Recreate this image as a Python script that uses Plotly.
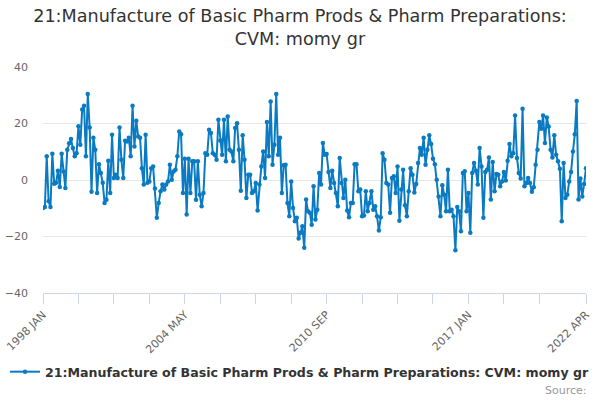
import plotly.graph_objects as go

# monthly series, 1998 JAN .. 2022 APR (292 months)
values = [
    -9.9, -9.6, 8.4, -7.5, -9.6, 9.3, -1.3, -1.0, 3.3, -2.5,
    9.3, 3.0, -2.8, 10.7, 13.0, 14.5, 11.3, 8.4, 9.5, 19.0,
    12.5, 25.0, 26.3, 8.4, 30.4, 18.6, -4.2, 15.0, 10.7, -4.6,
    5.6, 2.5, -1.0, -8.1, -7.0, 6.8, -4.6, 16.0, 0.7, 1.9,
    0.7, 18.6, 7.2, 0.7, 13.9, 13.6, 15.0, 8.4,
    26.3, 11.9, 21.0, 15.4, 15.0, 4.2, -1.6, 16.0, -1.0, -0.5,
    4.2, 4.8, -3.0, -13.4, -8.1, -4.0, -1.6, -3.4, -1.6, -0.5,
    5.4, 0.1, 3.0, 3.6, 8.4, 17.2, 16.2, -4.6, 7.5, -12.2,
    7.5, -4.6, 6.6, 6.6, -7.0, 6.6, -5.2, -9.3, -4.6, 9.5,
    8.9, 17.8, 16.6, 9.5, 8.9, 7.2, 21.3, 14.0,
    8.9, 21.3, 6.6, 22.5, 10.7, 10.1, 6.6, 18.4, 20.1, 10.7,
    -3.8, 15.8, 7.2, -6.4, 1.9, 1.9, -4.6, -4.0, -1.1, -10.8,
    -1.6, 4.8, 10.1, 0.7, 20.5, 8.4, 27.8, 5.4, 12.5, 30.4,
    8.9, 15.0, -4.6, 5.2, 5.4, -8.1, -12.8, -0.5, -9.9, -14.6,
    -13.4, -20.7, -18.7, -16.4, -24.0, -6.9, -11.1, -11.6, -15.8,
    -2.2, -14.0, -10.5, 2.5, -1.6, 13.1, 8.9, 9.2, 2.8, -2.8,
    3.3, -1.1, -4.6, -9.3, 7.8, -1.1, -6.4, 0.1, -10.8, -13.2,
    -8.1, -8.1, 5.6, 5.6, -4.0, -3.4, -12.8, -12.6, -4.0, -11.1,
    -8.1, -4.0, -10.5, -9.3, -12.8, -17.9, -13.2, 9.5, 7.2, -1.1,
    -1.6, -11.6, 0.7, 1.3, -4.6, 4.8, -14.4,
    -3.4, 3.6, -8.9, -12.8, -4.0, 4.2, 1.9, -4.4, -1.4, 6.0,
    11.3, 8.9, 15.0, 5.4, 10.7, 15.8, 12.7, 7.5, 5.6, 0.1,
    -5.8, -12.8, -1.9, -5.2, -11.1, 3.6, -11.1, -10.5, -12.8, -24.9,
    -9.6, -11.1, -18.1, 2.5, 3.1, -11.1, -4.6, -18.7, 2.5, 6.0,
    3.3, -1.6, 11.3, 4.8, -13.4, 2.8, 3.6, 8.0, -6.9,
    6.4, -4.0, 2.1, 1.9, -2.2, -0.5, 2.8, -0.2, 6.8, 12.7,
    8.4, 9.5, 22.8, 7.8, 2.5, 0.5, 25.2, -2.2, -1.1, 0.7,
    -1.1, -4.2, -2.6, 5.4, 10.7, 20.5, 18.1, 22.8, 13.1, 22.1,
    18.9, 10.7, 8.0, 15.8, 8.9, 6.6, 4.0, -14.6, 6.0, -6.4,
    -5.2, -0.5, 2.8, 10.1, 16.2, 28.0, -6.9, 0.5, -5.8, -1.4,
    4.2,
]

months = list(range(len(values)))
tick_pos = list(range(0, 267, 19)) + [291]
tick_labels = {0: "1998 JAN", 76: "2004 MAY", 152: "2010 SEP", 228: "2017 JAN", 291: "2022 APR"}
y_ticks = [-40, -20, 0, 20, 40]

series_name = "21:Manufacture of Basic Pharm Prods & Pharm Preparations: CVM: momy gr"
color = "#0a7bc2"

fig = go.Figure()
fig.add_scatter(
    x=months, y=values, mode="lines+markers", name=series_name,
    line=dict(color=color, width=2),
    marker=dict(color=color, size=4.5),
)

fig.update_layout(
    width=600, height=400,
    margin=dict(l=43, r=14, t=67, b=107, autoexpand=False),
    paper_bgcolor="white", plot_bgcolor="white",
    font=dict(family="DejaVu Sans", color="#666666", size=11),
    title=dict(
        text="21:Manufacture of Basic Pharm Prods & Pharm Preparations:<br>CVM: momy gr",
        x=0.5, xanchor="center", y=0.945, yanchor="top",
        font=dict(size=17.6, color="#333333"),
    ),
    showlegend=True,
    legend=dict(
        orientation="h", xref="container", yref="container",
        x=0.5, xanchor="center", y=0.07, yanchor="middle",
        font=dict(size=12.6, color="#333333", weight="bold"),
    ),
)

fig.update_xaxes(
    range=[0, 291], automargin=False,
    tickmode="array", tickvals=tick_pos,
    ticktext=[tick_labels.get(p, "") for p in tick_pos],
    tickangle=-45,
    ticks="outside", ticklen=10, tickcolor="#ccd6eb",
    showline=True, linecolor="#ccd6eb", linewidth=1,
    showgrid=False, zeroline=False,
)
fig.update_yaxes(
    range=[-40, 40], tickvals=y_ticks, automargin=False,
    gridcolor="#e6e6e6", zeroline=False, showline=False,
    ticks="", ticklabelstandoff=14,
)

fig.add_annotation(
    text="Source:", xref="paper", yref="paper", x=1.005, y=-0.43,
    xanchor="right", yanchor="middle", showarrow=False,
    font=dict(size=11, color="#999999"),
)

# drop the default page margin so the figure sits at the window's corner
fig.write_html("out.html", config={"displayModeBar": False},
               post_script="document.body.style.margin='0px';")
